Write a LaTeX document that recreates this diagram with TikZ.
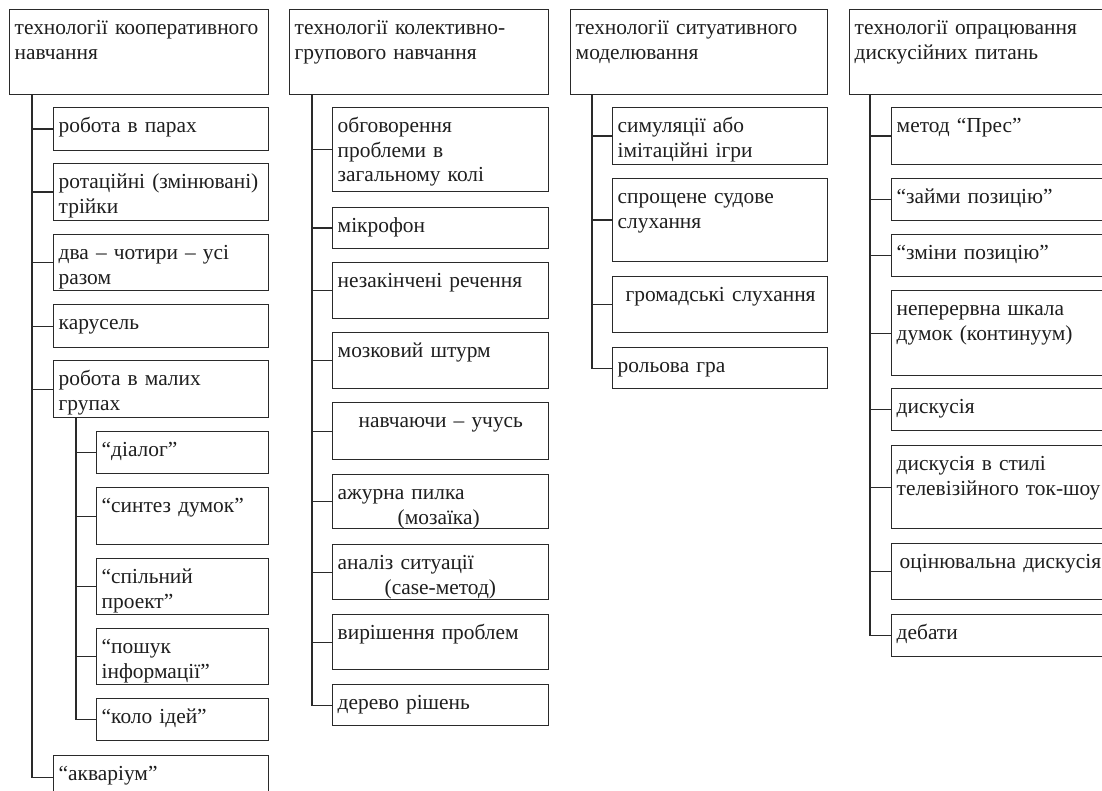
\documentclass[tikz,border=0pt]{standalone}
\usepackage{fontspec}
\setmainfont{Liberation Serif}
\usetikzlibrary{positioning}
\definecolor{ink}{HTML}{1E1E1E}
\definecolor{frame}{HTML}{2A2A2A}
\tikzset{
	item/.style={draw=frame, line width=1.4pt, anchor=north west, inner xsep=5pt, inner ysep=0pt,
		text=ink, align=left, font=\fontsize{21.4}{24.5}\selectfont, text height=25pt, text depth=#1},
	head/.style={item=#1, text width=249pt},
	wide/.style={item=#1, text width=205pt},
	narrow/.style={item=#1, text width=162pt},
	link/.style={draw=frame, line width=1.4pt},
}
\begin{document}
\begin{tikzpicture}[x=1pt, y=-1pt]

		\fill[white] (0,0) rectangle (1102,791);
		\useasboundingbox (0,0) rectangle (1102,791);
		\clip (0,0) rectangle (1102,791);

		% Cooperative learning
		\node[head=60pt] (t1) at (9,9) {технології кооперативного\\навчання};
		\node[wide=18pt] (k1) at (53,107) {робота в парах};
		\node[wide=32pt] (k2) at (53,163) {ротаційні (змінювані)\\трійки};
		\node[wide=31pt] (k3) at (53,234) {два – чотири – усі\\разом};
		\node[wide=18pt] (k4) at (53,304) {карусель};
		\node[wide=32pt] (k5) at (53,360) {робота в малих\\групах};
		\node[narrow=17pt] (g1) at (96,431) {“діалог”};
		\node[narrow=32pt] (g2) at (96,487) {“синтез думок”};
		\node[narrow=31pt] (g3) at (96,558) {“спільний\\проект”};
		\node[narrow=31pt] (g4) at (96,628) {“пошук\\інформації”};
		\node[narrow=17pt] (g5) at (96,698) {“коло ідей”};
		\node[wide=18pt] (k6) at (53,755) {“акваріум”};

		\coordinate[right=23pt of t1.south west] (r1);
		\draw[link] (r1) |- (k6.west);
		\foreach \n in {k1,k2,k3,k4,k5}
			\draw[link] (\n.west) -- (\n.west -| r1);
		\coordinate[right=23pt of k5.south west] (r5);
		\draw[link] (r5) |- (g5.west);
		\foreach \n in {g1,g2,g3,g4}
			\draw[link] (\n.west) -- (\n.west -| r5);

		% Collective group learning
		\node[head=60pt] (t2) at (289,9) {технології колективно-\\групового навчання};
		\node[wide=59pt, text width=206pt] (c1) at (332,107) {обговорення\\проблеми в\\загальному колі};
		\node[wide=16pt, text width=206pt] (c2) at (332,207) {мікрофон};
		\node[wide=31pt, text width=206pt] (c3) at (332,262) {незакінчені речення};
		\node[wide=31pt, text width=206pt] (c4) at (332,332) {мозковий штурм};
		\node[wide=32pt, text width=206pt] (c5) at (332,402) {\hspace*{21pt}навчаючи – учусь};
		\node[wide=29pt, text width=206pt] (c6) at (332,474) {ажурна пилка\\\hspace*{60pt}(мозаїка)};
		\node[wide=30pt, text width=206pt] (c7) at (332,544) {аналіз ситуації\\\hspace*{47pt}(case-метод)};
		\node[wide=30pt, text width=206pt] (c8) at (332,614) {вирішення проблем};
		\node[wide=16pt, text width=206pt] (c9) at (332,684) {дерево рішень};

		\coordinate[right=23pt of t2.south west] (r2);
		\draw[link] (r2) |- (c9.west);
		\foreach \n in {c1,c2,c3,c4,c5,c6,c7,c8}
			\draw[link] (\n.west) -- (\n.west -| r2);

		% Situational modelling
		\node[head=60pt, text width=247pt] (t3) at (570,9) {технології ситуативного\\моделювання};
		\node[wide=32pt] (s1) at (612,107) {симуляції або\\імітаційні ігри};
		\node[wide=58pt] (s2) at (612,178) {спрощене судове\\слухання};
		\node[wide=31pt] (s3) at (612,276) {\hspace*{8pt}громадські слухання};
		\node[wide=16pt] (s4) at (612,347) {рольова гра};

		\coordinate[right=22pt of t3.south west] (r3);
		\draw[link] (r3) |- (s4.west);
		\foreach \n in {s1,s2,s3}
			\draw[link] (\n.west) -- (\n.west -| r3);

		% Discussion questions
		\node[head=60pt, text width=251pt] (t4) at (849,9) {технології опрацювання\\дискусійних питань};
		\node[wide=32pt, text width=209pt] (d1) at (891,107) {метод “Прес”};
		\node[wide=17pt, text width=209pt] (d2) at (891,178) {“займи позицію”};
		\node[wide=17pt, text width=209pt] (d3) at (891,234) {“зміни позицію”};
		\node[wide=60pt, text width=209pt] (d4) at (891,290) {неперервна шкала\\думок (континуум)};
		\node[wide=17pt, text width=209pt] (d5) at (891,388) {дискусія};
		\node[wide=58pt, text width=209pt] (d6) at (891,445) {дискусія в стилі\\телевізійного ток-шоу};
		\node[wide=31pt, text width=209pt] (d7) at (891,543) {\hspace*{3pt}оцінювальна дискусія};
		\node[wide=17pt, text width=209pt] (d8) at (891,614) {дебати};

		\coordinate[right=21pt of t4.south west] (r4);
		\draw[link] (r4) |- (d8.west);
		\foreach \n in {d1,d2,d3,d4,d5,d6,d7}
			\draw[link] (\n.west) -- (\n.west -| r4);

	\end{tikzpicture}
\end{document}
